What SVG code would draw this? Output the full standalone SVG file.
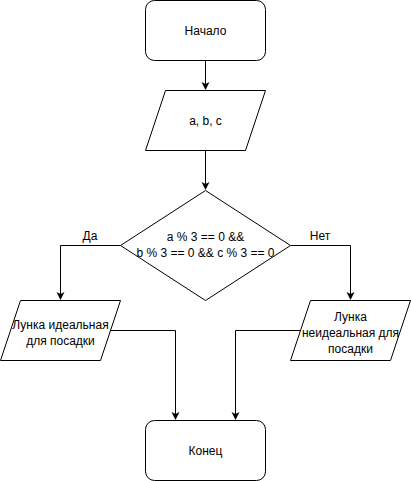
<svg xmlns="http://www.w3.org/2000/svg" width="411" height="481" viewBox="0 0 411 481">
<defs>
<marker id="arr" markerWidth="10" markerHeight="10" refX="7" refY="4" orient="auto" markerUnits="userSpaceOnUse">
<path d="M0,0 L8,4 L0,8 L2,4 Z" fill="#000"/>
</marker>
<style>
.s{fill:#fff;stroke:#000;stroke-width:1}
.t{font-family:"Liberation Sans",Arial,sans-serif;font-size:12px;fill:#000;text-anchor:middle}
.c{fill:none;stroke:#000;stroke-width:1;marker-end:url(#arr)}
</style>
</defs>
<rect width="411" height="481" fill="#fff"/>
<g id="connectors">
<path class="c" d="M205.5,60.5 V89"/>
<path class="c" d="M205.5,150.5 V189"/>
<path class="c" d="M120.5,245.5 H60.5 V299"/>
<path class="c" d="M290.5,245.5 H350.5 V299"/>
<path class="c" d="M110.5,330.5 H175.5 V419"/>
<path class="c" d="M300.5,330.5 H235.5 V419"/>
<text class="t" x="90" y="240">Да</text>
<text class="t" x="320" y="240">Нет</text>
</g>
<g id="start">
<rect class="s" x="145.5" y="0.5" width="120" height="60" rx="9"/>
<text class="t" x="205.5" y="34.5">Начало</text>
</g>
<g id="input">
<polygon class="s" points="165.5,90.5 265.5,90.5 245.5,150.5 145.5,150.5"/>
<text class="t" x="205.5" y="124.5">a, b, c</text>
</g>
<g id="cond">
<polygon class="s" points="205.5,190.5 290.5,245.5 205.5,300.5 120.5,245.5"/>
<text class="t" x="205.5" y="241">a % 3 == 0 &amp;&amp;</text>
<text class="t" x="205.5" y="257">b % 3 == 0 &amp;&amp; c % 3 == 0</text>
</g>
<g id="yes">
<polygon class="s" points="20.5,300.5 120.5,300.5 100.5,360.5 0.5,360.5"/>
<text class="t" x="60.5" y="329">Лунка идеальная</text>
<text class="t" x="60.5" y="345">для посадки</text>
</g>
<g id="no">
<polygon class="s" points="310.5,300.5 410.5,300.5 390.5,360.5 290.5,360.5"/>
<text class="t" x="350.5" y="321">Лунка</text>
<text class="t" x="350.5" y="337">неидеальная для</text>
<text class="t" x="350.5" y="353">посадки</text>
</g>
<g id="end">
<rect class="s" x="145.5" y="420.5" width="120" height="60" rx="9"/>
<text class="t" x="205.5" y="454.5">Конец</text>
</g>
</svg>
